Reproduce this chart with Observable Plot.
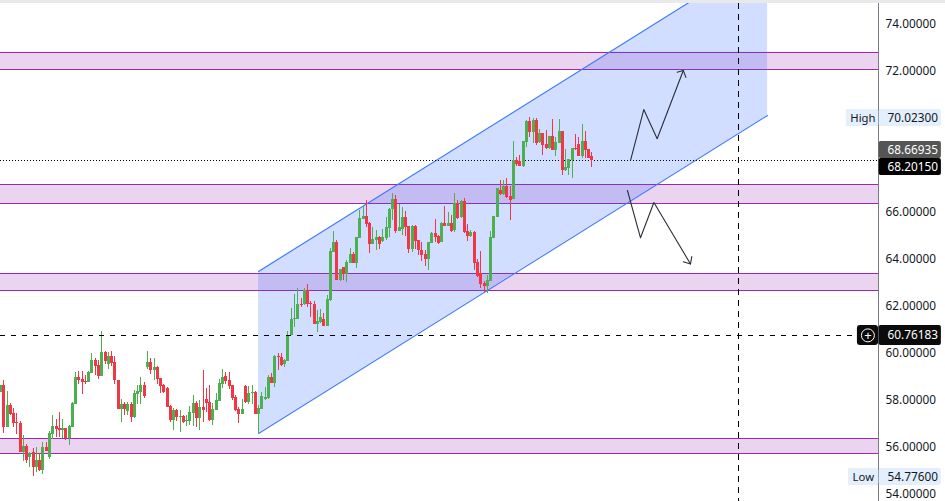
<!DOCTYPE html>
<html>
<head>
<meta charset="utf-8">
<script src="https://cdn.jsdelivr.net/npm/d3@7"></script>
<script src="https://cdn.jsdelivr.net/npm/@observablehq/plot@0.6"></script>
<style>
html,body{margin:0;padding:0;background:#fff;overflow:hidden}
#band{height:3px;background:#e9e9e9}
svg{display:block}
</style>
</head>
<body>
<div id="band"></div>
<div id="chart"></div>
<script>
const opens=[58.34,58.63,56.86,57.78,57.43,57.06,57.00,55.78,56.04,55.57,
55.78,55.15,55.44,55.02,56.00,55.57,56.55,56.89,56.80,56.73,
56.80,56.38,56.85,57.82,58.97,58.89,58.80,58.76,59.14,59.69,
59.48,59.01,60.03,59.52,59.86,59.61,58.84,57.61,57.82,57.53,
57.82,57.27,58.25,58.33,58.63,59.40,59.61,59.27,59.40,58.93,
58.63,58.50,57.74,57.14,57.57,57.27,57.31,57.10,57.10,57.44,
57.87,57.23,57.70,58.04,57.91,57.14,57.57,57.95,58.67,59.01,
58.84,58.63,58.12,57.61,57.40,58.59,57.91,58.29,58.33,57.40,
57.61,58.04,58.08,58.97,58.72,59.86,59.82,59.52,59.65,60.76,
61.44,61.44,62.07,62.07,62.67,62.12,62.07,61.22,61.31,61.44,
61.14,62.24,64.28,64.71,63.09,63.65,63.35,63.82,64.20,63.82,
64.88,65.69,65.81,65.52,64.62,64.79,64.92,64.75,64.88,65.30,
66.11,66.54,65.18,65.26,65.77,65.39,64.41,65.39,64.79,64.37,
64.20,63.99,64.67,65.09,64.96,64.71,65.52,65.39,65.52,65.22,
66.37,65.77,66.45,65.18,64.96,65.13,63.86,63.39,62.97,62.84,
63.05,64.88,65.77,66.92,66.75,67.09,66.66,66.54,68.19,68.15,
67.94,68.96,69.85,69.38,69.89,68.96,69.34,68.87,68.70,69.21,
68.62,68.92,69.42,67.77,67.85,68.19,68.70,68.87,68.36,69.00,
68.66,68.36];
const highs=[58.63,58.84,58.38,57.87,57.64,57.43,57.10,56.51,56.12,55.78,
55.94,56.00,55.73,56.21,56.21,56.68,57.36,57.19,57.48,57.19,
56.80,56.93,57.91,59.18,59.23,59.23,59.06,59.23,59.99,59.78,
59.69,60.93,60.08,60.03,60.08,59.86,58.84,58.04,57.91,57.91,
57.91,58.42,58.63,58.97,58.76,60.08,59.78,59.78,59.44,58.93,
58.67,58.55,57.78,57.65,57.61,57.57,57.36,57.36,57.74,58.21,
57.95,57.99,59.27,58.50,58.63,57.87,58.29,58.89,59.31,59.18,
59.18,58.63,58.21,57.70,58.04,58.63,58.59,58.63,58.38,57.78,
58.33,58.55,59.06,59.14,59.91,59.99,59.99,59.74,60.93,61.90,
62.50,62.75,62.33,62.75,62.92,62.20,62.20,61.82,61.86,61.69,
62.46,64.45,65.18,64.79,63.56,63.65,63.94,64.45,64.28,64.92,
66.07,66.24,66.49,65.56,65.35,65.22,64.96,65.26,65.77,66.15,
66.79,66.71,66.32,66.20,66.03,65.39,65.43,65.43,64.79,64.71,
64.37,64.71,65.13,65.69,65.01,65.56,66.24,65.98,65.86,66.79,
66.49,66.49,66.58,65.47,65.22,65.18,63.99,64.33,63.05,63.31,
65.18,65.81,67.00,67.34,67.34,67.43,67.09,69.00,68.32,68.41,
69.00,69.89,70.02,69.98,69.98,69.51,69.34,69.47,69.21,69.93,
69.17,69.93,69.42,68.66,68.24,68.70,69.30,69.17,69.72,69.42,
68.66,68.53];
const lows=[58.34,56.61,56.86,57.36,56.86,56.55,55.78,55.42,55.33,55.16,
54.76,54.93,54.99,54.85,55.83,55.49,56.34,56.42,56.42,56.38,
56.29,56.08,56.85,57.82,58.67,58.25,58.67,58.76,59.14,59.06,
58.89,59.01,59.52,59.31,59.44,58.67,57.61,57.06,57.36,57.36,
57.06,57.23,57.82,57.82,58.08,59.31,59.10,58.84,58.67,58.29,
58.29,57.70,57.06,56.72,57.10,56.63,57.02,56.89,56.93,56.89,
56.85,56.72,57.06,57.48,57.10,56.93,57.57,57.95,58.50,58.67,
58.46,57.99,57.53,57.02,57.40,57.87,57.82,57.82,57.40,56.55,
57.61,57.99,58.04,58.72,58.55,59.27,59.44,59.40,59.65,60.76,
61.10,61.44,61.95,62.03,61.95,61.52,61.22,60.88,61.27,61.14,
61.14,62.22,64.28,63.09,63.05,63.09,63.01,63.82,63.82,63.60,
64.88,65.69,65.35,64.24,64.62,64.37,64.41,64.71,64.79,64.92,
65.64,65.09,65.18,65.01,64.96,64.24,64.28,64.41,64.16,63.90,
63.69,63.52,64.67,64.71,64.62,64.71,65.39,65.39,65.13,65.13,
65.69,65.73,65.09,64.75,64.92,63.52,63.22,62.75,62.58,62.54,
63.05,64.88,65.77,66.71,66.71,66.58,65.64,66.54,67.94,67.94,
67.90,68.75,69.17,68.92,68.83,68.92,68.41,68.66,68.66,68.62,
68.36,68.92,67.56,67.73,67.56,67.43,68.62,68.36,68.28,68.28,
68.28,67.90];
const closes=[58.63,56.86,57.78,57.41,57.03,57.03,55.78,56.04,55.44,55.74,
55.15,55.44,55.02,56.00,55.83,56.59,56.89,56.76,56.73,56.80,
56.38,56.89,57.87,58.97,58.84,58.76,58.76,59.18,59.69,59.44,
59.01,60.03,59.65,59.86,59.57,58.84,57.61,57.82,57.61,57.82,
57.27,58.29,58.38,58.63,58.16,59.61,59.27,59.40,58.89,58.59,
58.33,57.70,57.14,57.57,57.27,57.31,57.06,57.14,57.48,57.87,
57.23,57.70,57.57,57.87,57.14,57.61,57.99,58.72,58.97,58.80,
58.59,58.08,57.57,57.40,57.61,57.91,58.29,58.33,57.40,57.65,
58.16,58.12,58.97,58.72,59.86,59.82,59.48,59.69,60.76,61.44,
61.48,62.07,62.03,62.67,62.07,62.07,61.22,61.35,61.52,61.14,
62.29,64.33,64.71,63.09,63.56,63.35,63.86,64.20,63.82,64.92,
65.73,65.81,65.47,64.62,64.84,64.92,64.62,64.92,65.35,66.11,
66.54,65.18,65.35,65.77,65.35,64.41,65.39,64.75,64.37,64.16,
63.99,64.71,65.09,64.92,64.67,65.52,65.39,65.52,65.18,66.37,
65.73,66.45,65.13,64.96,65.13,63.82,63.26,62.92,62.84,63.09,
64.92,65.81,67.00,66.75,67.09,66.62,66.49,68.19,68.02,67.94,
69.00,69.85,69.38,69.89,68.92,69.34,68.83,68.70,69.21,68.62,
68.96,69.42,67.77,67.90,68.24,68.70,68.66,68.36,69.00,68.62,
68.28,68.20];

const zoneHigh=[72.80,67.16,63.38,56.37];
const zoneLow=[72.07,66.35,62.66,55.73];

const channelBars=[79,234.8];
const channelLower=[56.59,70.11];
const channelUpper=[63.48,77.00];

const upArrowBars=[192.9,196.9,201.0,209.0];
const upArrowPrices=[68.22,70.36,69.12,72.02];
const upHeadBars=[207.1,209.0,209.8];
const upHeadPrices=[71.95,72.02,71.73];
const downArrowBars=[191.9,195.9,200.0,211.2];
const downArrowPrices=[66.92,64.91,66.41,63.80];
const downHeadBars=[209.0,211.2,211.6];
const downHeadPrices=[63.89,63.80,64.11];

const crossBar=226;
const crossPrice=60.76183;
const lastPrice=68.2015;

const priceTicks=[54,56,58,60,62,64,66,72,74];
const tagLabels=["70.02300","68.66935","68.20150","60.76183","54.77600"];
const tagTop=[70.36,69.00,68.28,61.18,55.10];
const tagBottom=[69.64,68.28,67.56,60.33,54.38];
const tagFill=["#e3effd","#555555","#000000","#0b0b0b","#e3effd"];
const tagText=["#131722","#ffffff","#ffffff","#ffffff","#131722"];
const sideLabels=["High","Low"];
const sideTop=[70.36,55.10];
const sideBottom=[69.64,54.38];
const sideStart=[258.9,259.6];

const candles=opens.map((o,i)=>({i,o,h:highs[i],l:lows[i],c:closes[i]}));
const zones=zoneHigh.map((hi,k)=>({hi,lo:zoneLow[k]}));
const zoneEdges=[...zoneHigh,...zoneLow];
const channel=channelBars.map((x,k)=>({x,lo:channelLower[k],up:channelUpper[k]}));
const pts=(xs,ys)=>xs.map((x,k)=>({x,y:ys[k]}));
const tags=tagLabels.map((t,k)=>({t,top:tagTop[k],bot:tagBottom[k],fill:tagFill[k],ink:tagText[k]}));
const sides=sideLabels.map((t,k)=>({t,top:sideTop[k],bot:sideBottom[k],x0:sideStart[k]}));
const axisBar=268.75, tagEnd=288, plusStart=262.3, plusCentre=265.5;
const col=d=>d.c>=d.o?"#4caf50":"#f23645";
const ink="#131722", font="'Noto Sans',sans-serif";

const chart=Plot.plot({
  width:945,height:498,
  marginLeft:0,marginRight:67,marginTop:0,marginBottom:0,
  style:{fontFamily:font,background:"#fff",overflow:"visible"},
  x:{domain:[0,axisBar],axis:null},
  y:{domain:[53.70,74.87],axis:null},
  marks:[
    Plot.rect(zones,{y1:"lo",y2:"hi",fill:"#9c27b0",fillOpacity:0.2}),
    Plot.ruleY(zoneEdges,{stroke:"#9c27b0",strokeWidth:1,shapeRendering:"crispEdges"}),
    Plot.areaY(channel,{x:"x",y1:"lo",y2:"up",fill:"#2962ff",fillOpacity:0.21,clip:true}),
    Plot.line(channel,{x:"x",y:"lo",stroke:"#3f78ff",strokeWidth:1.1,clip:true}),
    Plot.line(channel,{x:"x",y:"up",stroke:"#3f78ff",strokeWidth:1.1,clip:true}),
    Plot.ruleY([lastPrice],{stroke:"#000",strokeWidth:1,strokeDasharray:"1 2",shapeRendering:"crispEdges"}),
    Plot.ruleX(candles,{x:"i",y1:"l",y2:"h",stroke:col,strokeWidth:1,shapeRendering:"crispEdges"}),
    Plot.ruleX(candles,{x:"i",y1:"o",y2:"c",stroke:col,strokeWidth:3,shapeRendering:"crispEdges"}),
    Plot.line(pts(upArrowBars,upArrowPrices),{x:"x",y:"y",stroke:"#2a2e39",strokeWidth:1.1}),
    Plot.line(pts(upHeadBars,upHeadPrices),{x:"x",y:"y",stroke:"#2a2e39",strokeWidth:1.1}),
    Plot.line(pts(downArrowBars,downArrowPrices),{x:"x",y:"y",stroke:"#2a2e39",strokeWidth:1.1}),
    Plot.line(pts(downHeadBars,downHeadPrices),{x:"x",y:"y",stroke:"#2a2e39",strokeWidth:1.1}),
    Plot.ruleX([crossBar],{stroke:"#000",strokeWidth:1,strokeDasharray:"6 5",shapeRendering:"crispEdges"}),
    Plot.ruleY([crossPrice],{x1:0,x2:plusStart,stroke:"#000",strokeWidth:1,strokeDasharray:"5 6",shapeRendering:"crispEdges"}),
    Plot.frame({anchor:"right",stroke:"#787b86",strokeWidth:1,shapeRendering:"crispEdges"}),
    Plot.axisY(priceTicks,{anchor:"right",tickSize:0,tickPadding:7,label:null,fontSize:11.8,color:ink,
      tickFormat:d=>d.toFixed(5)}),
    Plot.rect(sides,{x1:"x0",x2:axisBar,y1:"bot",y2:"top",fill:"#e3effd"}),
    Plot.text(sides,{x:"x0",y:d=>(d.top+d.bot)/2,text:"t",textAnchor:"start",dx:4,fill:ink,fontSize:11.3}),
    Plot.rect(tags,{x1:axisBar+0.2,x2:tagEnd,y1:"bot",y2:"top",fill:"fill",rx:2}),
    Plot.text(tags,{x:axisBar,y:d=>(d.top+d.bot)/2,text:"t",textAnchor:"start",dx:9,fill:"ink",fontSize:11.8,fontWeight:d=>d.ink==="#ffffff"?600:400}),
    Plot.rect([crossPrice],{x1:plusStart,x2:axisBar,y1:60.33,y2:61.18,fill:"#0b0b0b",rx:3}),
    Plot.dot([crossPrice],{x:plusCentre,y:d=>d,r:6.5,stroke:"#fff",strokeWidth:1,fill:"none"}),
    Plot.text(["+"],{x:plusCentre,y:crossPrice,text:d=>d,fill:"#fff",fontSize:13})
  ]
});
document.getElementById("chart").append(chart);
</script>
</body>
</html>
